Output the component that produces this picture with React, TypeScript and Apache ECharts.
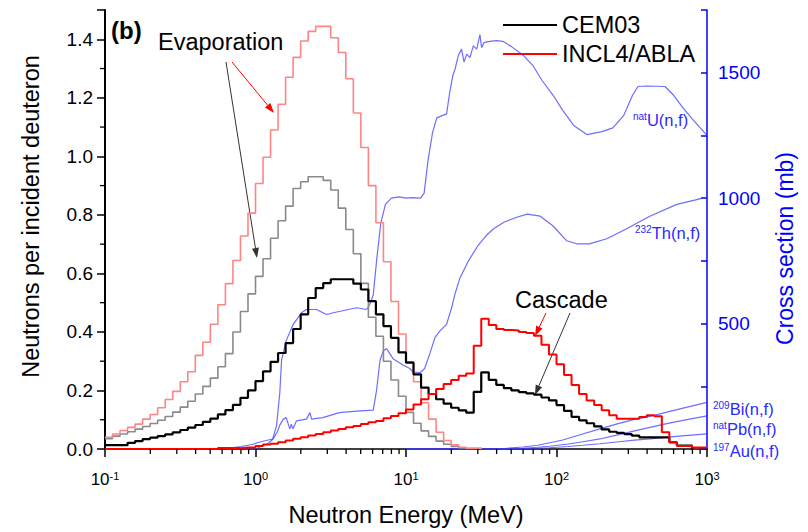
import React, { useEffect, useRef } from 'react';
import * as echarts from 'echarts';

const FONT = '"Liberation Sans", Arial, Helvetica, sans-serif';
const BLUE_AXIS = '#0000ff';
const BLUE_CURVE = 'rgba(60,60,255,0.75)';
const BLUE_TEXT = '#2a2aff';

// Histogram bins: 20 log-spaced bins per decade starting at 0.1 MeV
const BINS_PER_DECADE = 20;
const E_START = 0.1;

// CEM03 total (thick black), values per bin
const cem03Total = [
  0.013, 0.013, 0.013, 0.021, 0.027, 0.034, 0.039, 0.044, 0.05, 0.057,
  0.065, 0.073, 0.082, 0.093, 0.104, 0.118, 0.133, 0.151, 0.175, 0.2,
  0.232, 0.265, 0.298, 0.328, 0.362, 0.41, 0.46, 0.516, 0.55, 0.567,
  0.58, 0.58, 0.58, 0.565, 0.545, 0.505, 0.46, 0.42, 0.38, 0.33,
  0.295, 0.255, 0.21, 0.188, 0.17, 0.155, 0.141, 0.132, 0.124, 0.195,
  0.262, 0.236, 0.219, 0.208, 0.2, 0.194, 0.19, 0.186, 0.176, 0.166,
  0.15, 0.13, 0.11, 0.098, 0.088, 0.077, 0.067, 0.059, 0.055, 0.051,
  0.046, 0.04, 0.04, 0.04, 0.04, 0.023, 0.012, 0.012,
];

// CEM03 evaporation (gray)
const cem03Evap = [
  0.035, 0.044, 0.051, 0.059, 0.068, 0.077, 0.087, 0.098, 0.111, 0.126,
  0.143, 0.163, 0.188, 0.214, 0.242, 0.281, 0.326, 0.4, 0.47, 0.53,
  0.59, 0.65, 0.72, 0.78, 0.83, 0.89, 0.913, 0.93, 0.93, 0.918,
  0.885, 0.823, 0.75, 0.667, 0.566, 0.45, 0.385, 0.3, 0.236, 0.18,
  0.125, 0.088, 0.062, 0.043, 0.027, 0.016, 0.009, 0.004,
];

// INCL4/ABLA total (thick red)
const inclTotal = [
  0, 0, 0, 0, 0, 0, 0, 0, 0, 0,
  0, 0, 0, 0, 0, 0.003, 0.003, 0.003, 0.005, 0.006,
  0.01, 0.015, 0.018, 0.023, 0.029, 0.035, 0.04, 0.046, 0.051, 0.057,
  0.063, 0.068, 0.074, 0.079, 0.085, 0.091, 0.096, 0.105, 0.113, 0.122,
  0.135, 0.152, 0.17, 0.188, 0.205, 0.222, 0.236, 0.25, 0.258, 0.353,
  0.445, 0.424, 0.41, 0.407, 0.405, 0.4, 0.396, 0.387, 0.356, 0.323,
  0.29, 0.253, 0.219, 0.188, 0.166, 0.15, 0.132, 0.115, 0.103, 0.103,
  0.103, 0.109, 0.115, 0.112, 0.057, 0.022, 0.01, 0.01, 0.005, 0.005,
];

// INCL4/ABLA evaporation (light red)
const inclEvap = [
  0.04, 0.051, 0.063, 0.074, 0.085, 0.102, 0.118, 0.141, 0.169, 0.197,
  0.23, 0.264, 0.32, 0.365, 0.426, 0.493, 0.565, 0.644, 0.728, 0.806,
  0.907, 0.997, 1.09, 1.178, 1.27, 1.338, 1.394, 1.427, 1.444, 1.444,
  1.405, 1.355, 1.265, 1.148, 1.03, 0.9, 0.773, 0.64, 0.504, 0.393,
  0.298, 0.23, 0.158, 0.102, 0.057, 0.029, 0.014, 0.006, 0.003, 0.003,
];

// Fission cross sections [E (MeV), sigma (mb)]
const natU = [
  [0.1, 0], [0.5, 0], [0.7, 5], [0.8, 10], [0.95, 18], [1.1, 30], [1.3, 40], [1.38, 93],
  [1.45, 223], [1.49, 354], [1.6, 432], [1.78, 497], [2.02, 543], [2.18, 556], [2.54, 556],
  [2.97, 536], [3.29, 543], [4.7, 563], [5.47, 556], [5.75, 576], [6.06, 615], [6.4, 760],
  [6.8, 900], [7.3, 975], [8, 1000], [9, 1005], [10, 1000], [11, 1002], [12.5, 1000],
  [13.2, 1020], [14, 1150], [15, 1260], [16, 1320], [17.5, 1330], [18.6, 1335], [19.5, 1420],
  [20.5, 1490], [21.2, 1515], [22.3, 1570], [23.4, 1594], [24.3, 1542], [25.3, 1574],
  [26.6, 1560], [28, 1607], [29.5, 1594], [31, 1652], [31.8, 1600], [33, 1620], [36, 1625],
  [40, 1628], [44, 1625], [50, 1605], [60, 1570], [70, 1527], [80, 1470], [95, 1410],
  [110, 1350], [130, 1290], [160, 1253], [200, 1265], [237, 1280], [280, 1330], [320, 1410],
  [348, 1445], [400, 1447], [526, 1445], [600, 1410], [693, 1360], [800, 1315], [1000, 1250],
];

const th232 = [
  [0.1, 0], [1.0, 0], [1.07, 8], [1.2, 20], [1.31, 40], [1.4, 70], [1.45, 95], [1.53, 119],
  [1.6, 125], [1.69, 80], [1.73, 99], [1.77, 80], [1.87, 112], [2.18, 119], [2.3, 145],
  [2.36, 119], [2.8, 125], [3.6, 145], [4.7, 151], [6.06, 155], [6.38, 236], [6.72, 354],
  [7.08, 393], [7.45, 399], [8.2, 360], [9.6, 334], [10.6, 321], [11.1, 308], [12.4, 304],
  [13.3, 321], [14.4, 380], [15.6, 445], [16.8, 471], [18.6, 497], [20.1, 563], [21.1, 615],
  [22.8, 681], [26, 750], [30, 810], [34, 850], [38, 877], [45, 905], [55, 925], [64, 936],
  [78, 928], [95, 889], [117, 830], [136, 818], [165, 818], [216, 838], [290, 877],
  [417, 928], [630, 975], [940, 1000], [1000, 1000],
];

const bi209 = [
  [10, 0], [35, 0], [45, 2], [60, 8], [75, 15], [90, 25], [110, 36], [140, 55], [194, 80],
  [260, 102], [330, 118], [418, 130], [550, 148], [750, 168], [1000, 186],
];

const pbNat = [
  [10, 0], [45, 0], [60, 3], [75, 7], [90, 11], [120, 20], [150, 29], [194, 40], [260, 57],
  [330, 72], [418, 86], [550, 102], [750, 118], [1000, 132],
];

const au197 = [
  [10, 0], [50, 0], [70, 2], [90, 5], [120, 10], [150, 15], [194, 21], [260, 29], [330, 35],
  [418, 40], [550, 47], [750, 54], [1000, 60],
];

// Axis ticks
const xDecades = [0.1, 1, 10, 100];
const xMinorMultipliers = [2, 3, 4, 5, 6, 7, 8, 9];
const yMinorTicks = [0.1, 0.3, 0.5, 0.7, 0.9, 1.1, 1.3];
const rightLabels = [500, 1000, 1500];

function binEdge(k: number) {
  return E_START * Math.pow(10, k / BINS_PER_DECADE);
}

function toSteps(vals: number[], closeToZero: boolean) {
  const pts: number[][] = vals.map((v, k) => [binEdge(k), v]);
  const n = vals.length;
  pts.push([binEdge(n), vals[n - 1]]);
  if (closeToZero) pts.push([binEdge(n), 0]);
  return pts;
}

function arrow(x1: number, y1: number, x2: number, y2: number, color: string, width: number) {
  const ang = Math.atan2(y2 - y1, x2 - x1);
  const len = 10;
  const hw = 3.5;
  const bx = x2 - len * Math.cos(ang);
  const by = y2 - len * Math.sin(ang);
  const px = -Math.sin(ang) * hw;
  const py = Math.cos(ang) * hw;
  return [
    {
      type: 'line',
      shape: { x1, y1, x2: bx, y2: by },
      style: { stroke: color, lineWidth: width },
      silent: true,
    },
    {
      type: 'polygon',
      shape: { points: [[x2, y2], [bx + px, by + py], [bx - px, by - py]] },
      style: { fill: color },
      silent: true,
    },
  ];
}

function isoLabel(x: number, y: number, sup: string, main: string) {
  return {
    type: 'text',
    x,
    y,
    silent: true,
    style: {
      text: `{s|${sup}}{m|${main}}`,
      verticalAlign: 'middle',
      align: 'left',
      fill: BLUE_TEXT,
      rich: {
        s: { fontSize: 10, fontFamily: FONT, fill: BLUE_TEXT, verticalAlign: 'top', lineHeight: 17 },
        m: { fontSize: 16.5, fontFamily: FONT, fill: BLUE_TEXT, lineHeight: 17 },
      },
    },
  };
}

function plainText(x: number, y: number, text: string, size: number, bold = false) {
  return {
    type: 'text',
    x,
    y,
    silent: true,
    style: {
      text,
      fontSize: size,
      fontWeight: bold ? 'bold' : 'normal',
      fontFamily: FONT,
      fill: '#000',
      verticalAlign: 'middle',
      align: 'left',
    },
  };
}

export default function App() {
  const ref = useRef<HTMLDivElement>(null);

  useEffect(() => {
    if (!ref.current) return;
    const chart = echarts.init(ref.current, undefined, { renderer: 'svg' });

    const xMinor: number[][] = [];
    xDecades.forEach((d) => xMinorMultipliers.forEach((m) => xMinor.push([m * d, 0])));

    const blueSeries = (name: string, data: number[][]) => ({
      name,
      type: 'line',
      xAxisIndex: 0,
      yAxisIndex: 1,
      data,
      showSymbol: false,
      symbol: 'none',
      silent: true,
      z: 2,
      lineStyle: { color: BLUE_CURVE, width: 1.2 },
    });

    const histSeries = (name: string, vals: number[], color: string, width: number, close: boolean, z: number) => ({
      name,
      type: 'line',
      xAxisIndex: 0,
      yAxisIndex: 0,
      step: 'end',
      data: toSteps(vals, close),
      showSymbol: false,
      symbol: 'none',
      silent: true,
      z,
      lineStyle: { color, width },
    });

    const option: any = {
      animation: false,
      backgroundColor: '#ffffff',
      grid: { left: 105, right: 101, top: 10, bottom: 75, containLabel: false },
      xAxis: {
        type: 'log',
        logBase: 10,
        min: 0.1,
        max: 1000,
        axisLine: { show: true, lineStyle: { color: '#000', width: 1.5 } },
        axisTick: { show: true, length: 8, lineStyle: { color: '#000', width: 1.5 } },
        splitLine: { show: false },
        minorTick: { show: false },
        axisLabel: {
          margin: 21,
          formatter: (v: number) => `{b|10}{s|${Math.round(Math.log10(v))}}`,
          rich: {
            b: { fontSize: 17, fontFamily: FONT, color: '#000', lineHeight: 19 },
            s: { fontSize: 11, fontFamily: FONT, color: '#000', verticalAlign: 'top', lineHeight: 19 },
          },
        },
        name: 'Neutron Energy (MeV)',
        nameLocation: 'middle',
        nameGap: 54,
        nameTextStyle: { fontSize: 23.5, fontFamily: FONT, color: '#000' },
      },
      yAxis: [
        {
          type: 'value',
          position: 'left',
          min: 0,
          max: 1.5,
          interval: 0.2,
          axisLine: { show: true, lineStyle: { color: '#000', width: 2 } },
          axisTick: { show: true, length: 8, lineStyle: { color: '#000', width: 1.5 } },
          splitLine: { show: false },
          axisLabel: {
            margin: 12,
            fontSize: 19,
            fontFamily: FONT,
            color: '#000',
            formatter: (v: number) => (v > 1.45 ? '' : v.toFixed(1)),
          },
          name: 'Neutrons per incident deuteron',
          nameLocation: 'middle',
          nameRotate: 90,
          nameGap: 62,
          nameTextStyle: { fontSize: 23.5, fontFamily: FONT, color: '#000', padding: [0, 0, 0, 26] },
        },
        {
          type: 'value',
          position: 'right',
          min: 0,
          max: 1750,
          interval: 250,
          axisLine: { show: true, lineStyle: { color: BLUE_AXIS, width: 1.5 } },
          axisTick: { show: true, inside: true, length: 6, lineStyle: { color: BLUE_AXIS, width: 1.5 } },
          splitLine: { show: false },
          axisLabel: {
            margin: 11,
            fontSize: 19,
            fontFamily: FONT,
            color: BLUE_AXIS,
            formatter: (v: number) => (rightLabels.indexOf(v) >= 0 ? String(v) : ''),
          },
          name: 'Cross section (mb)',
          nameLocation: 'middle',
          nameRotate: 90,
          nameGap: 66,
          nameTextStyle: { fontSize: 23, fontFamily: FONT, color: BLUE_AXIS, padding: [0, 38, 0, 0] },
        },
      ],
      series: [
        blueSeries('natU(n,f)', natU),
        blueSeries('232Th(n,f)', th232),
        blueSeries('209Bi(n,f)', bi209),
        blueSeries('natPb(n,f)', pbNat),
        blueSeries('197Au(n,f)', au197),
        histSeries('CEM03 evaporation', cem03Evap, '#8a8a8a', 1.6, true, 3),
        histSeries('INCL4/ABLA evaporation', inclEvap, '#ff8585', 1.6, true, 3),
        histSeries('CEM03', cem03Total, '#000000', 2.2, true, 4),
        histSeries('INCL4/ABLA', inclTotal, '#ff0000', 2, false, 4),
        {
          type: 'custom',
          xAxisIndex: 0,
          yAxisIndex: 0,
          silent: true,
          clip: false,
          z: 5,
          data: xMinor,
          renderItem: (_p: any, api: any) => {
            const pt = api.coord([api.value(0), 0]);
            return {
              type: 'line',
              shape: { x1: pt[0], y1: pt[1], x2: pt[0], y2: pt[1] + 5 },
              style: { stroke: '#000', lineWidth: 1.3 },
            };
          },
        },
        {
          type: 'custom',
          xAxisIndex: 0,
          yAxisIndex: 0,
          silent: true,
          clip: false,
          z: 5,
          data: yMinorTicks.map((v) => [0.1, v]),
          renderItem: (_p: any, api: any) => {
            const pt = api.coord([api.value(0), api.value(1)]);
            return {
              type: 'line',
              shape: { x1: pt[0] - 5, y1: pt[1], x2: pt[0], y2: pt[1] },
              style: { stroke: '#000', lineWidth: 1.3 },
            };
          },
        },
      ],
      graphic: [
        plainText(111, 30, '(b)', 24, true),
        plainText(158, 42, 'Evaporation', 23.5),
        plainText(515, 300, 'Cascade', 23.5),
        ...arrow(232, 62, 274, 113, '#ff0000', 1),
        ...arrow(226, 62, 257, 258, '#333333', 1),
        ...arrow(546, 313, 535, 336, '#ff0000', 1),
        ...arrow(570, 313, 535, 395, '#333333', 1),
        {
          type: 'line',
          shape: { x1: 503, y1: 25, x2: 557, y2: 25 },
          style: { stroke: '#000', lineWidth: 2 },
          silent: true,
        },
        {
          type: 'line',
          shape: { x1: 503, y1: 54, x2: 557, y2: 54 },
          style: { stroke: '#ff0000', lineWidth: 2 },
          silent: true,
        },
        plainText(562, 25, 'CEM03', 23.5),
        plainText(562, 54, 'INCL4/ABLA', 23.5),
        isoLabel(633, 120, 'nat', 'U(n,f)'),
        isoLabel(635, 233, '232', 'Th(n,f)'),
        isoLabel(713, 409, '209', 'Bi(n,f)'),
        isoLabel(713, 429, 'nat', 'Pb(n,f)'),
        isoLabel(713, 451, '197', 'Au(n,f)'),
      ],
    };

    chart.setOption(option);
    return () => chart.dispose();
  }, []);

  return (
    <div
      ref={ref}
      style={{ position: 'fixed', left: 0, top: 0, width: 808, height: 532, background: '#fff' }}
    />
  );
}
